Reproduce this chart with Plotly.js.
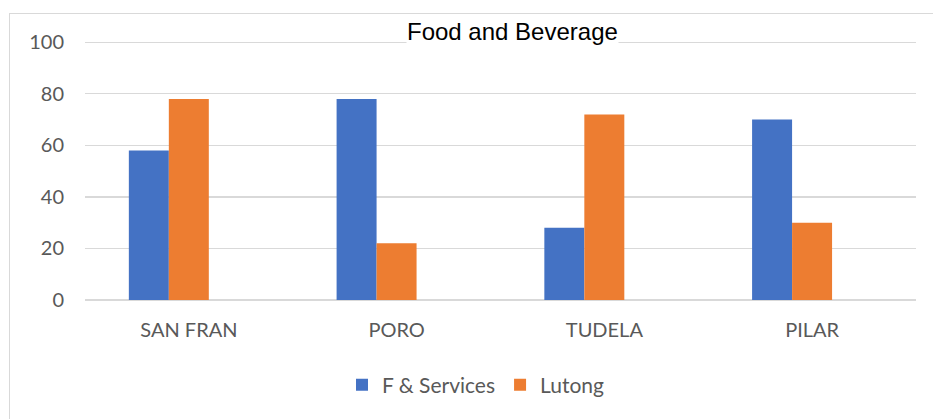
<!DOCTYPE html>
<html>
<head>
<meta charset="utf-8">
<script src="https://cdn.plot.ly/plotly-3.0.1.min.js"></script>
<style>
  html, body { margin: 0; padding: 0; background: #fff; overflow: hidden; }
  #wrap { position: relative; width: 933px; height: 419px; }
  #chart { width: 933px; height: 419px; }
  #frame { position: absolute; left: 9px; top: 13px; width: 1000px; height: 1000px;
           border: 1px solid #d9d9d9; pointer-events: none; }
</style>
</head>
<body>
<div id="wrap">
  <div id="chart"></div>
  <div id="frame"></div>
</div>
<script>
const categories = ["SAN FRAN", "PORO", "TUDELA", "PILAR"];
const fServices = [58, 78, 28, 70];
const lutong = [78, 22, 72, 30];
const seriesNames = ["F & Services", "Lutong"];
const chartTitle = "Food and Beverage";
const yTicks = [0, 20, 40, 60, 80, 100];

const tickFont = { family: "Lato, 'Open Sans', sans-serif", size: 20, color: "#595959" };
const legendFont = { family: "Lato, 'Open Sans', sans-serif", size: 21, color: "#595959" };

const traces = [
  { type: "bar", name: seriesNames[0], x: categories, y: fServices,
    marker: { color: "#4472C4" }, width: 0.1925, offset: -0.289 },
  { type: "bar", name: seriesNames[1], x: categories, y: lutong,
    marker: { color: "#ED7D31" }, width: 0.1925, offset: -0.0965 }
];

const plotTop = 41, plotBottom = 300;
const plotH = plotBottom - plotTop;

const layout = {
  width: 933, height: 419,
  margin: { l: 85, r: 17, t: plotTop, b: 419 - plotBottom, pad: 0 },
  paper_bgcolor: "#ffffff", plot_bgcolor: "#ffffff",
  barmode: "overlay",
  showlegend: true,
  legend: {
    orientation: "h", x: (476 - 85) / 831, xanchor: "center",
    y: (plotBottom - 385) / plotH, yanchor: "middle",
    font: legendFont, bgcolor: "rgba(0,0,0,0)"
  },
  xaxis: {
    type: "category", showgrid: false, zeroline: false, showline: false,
    ticks: "", tickfont: tickFont, ticklabelstandoff: 16
  },
  yaxis: {
    range: [0, 100.5], tickvals: yTicks, showgrid: true, gridcolor: "#d9d9d9", gridwidth: 1.3,
    zeroline: true, zerolinecolor: "#d9d9d9", zerolinewidth: 1.3, showline: false,
    ticks: "", tickfont: tickFont, ticklabelstandoff: 20
  },
  annotations: [{
    text: chartTitle, xref: "paper", yref: "paper",
    x: (512 - 85) / 831, y: (plotBottom - 31) / plotH, xanchor: "center", yanchor: "middle",
    showarrow: false, bgcolor: "#ffffff", borderpad: 0,
    font: { family: "'Liberation Sans', Arial, sans-serif", size: 24, color: "#000000" }
  }]
};

Plotly.newPlot("chart", traces, layout, { displayModeBar: false, staticPlot: true });
</script>
</body>
</html>
